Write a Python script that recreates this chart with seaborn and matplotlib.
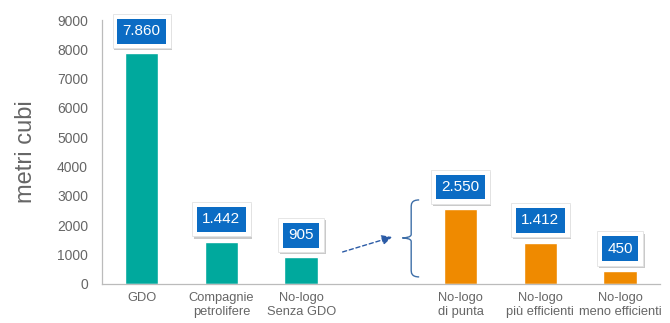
import matplotlib
matplotlib.use("Agg")
import matplotlib.pyplot as plt
import matplotlib.patheffects as pe
from matplotlib.path import Path
from matplotlib.patches import PathPatch
import seaborn as sns
import pandas as pd

# Volumes per operator type (cubic metres)
categories = ["GDO", "Compagnie\npetrolifere", "No-logo\nSenza GDO", " ",
              "No-logo\ndi punta", "No-logo\npiù efficienti", "No-logo\nmeno efficienti"]
values = [7860, 1442, 905, 0, 2550, 1412, 450]
value_labels = ["7.860", "1.442", "905", "", "2.550", "1.412", "450"]
yticks = [0, 1000, 2000, 3000, 4000, 5000, 6000, 7000, 8000, 9000]

TEAL = "#00A99D"
ORANGE = "#EF8A00"
BLUE = "#0B6CC4"
GREY = "#666666"
bar_colors = [TEAL, TEAL, TEAL, "white", ORANGE, ORANGE, ORANGE]

sns.set_style("white")
plt.rcParams["font.family"] = ["Liberation Sans", "DejaVu Sans"]

df = pd.DataFrame({"categoria": categories, "metri": values})

fig = plt.figure(figsize=(6.7, 3.23), dpi=100)
ax = fig.add_axes([0.152, 0.121, 0.833, 0.817])

sns.barplot(data=df, x="categoria", y="metri", order=categories,
            hue="categoria", palette=dict(zip(categories, bar_colors)),
            legend=False, width=0.42, saturation=1, ax=ax)

ax.set_xlim(-0.5, len(categories) - 0.5)
ax.set_ylim(0, 9000)
ax.set_yticks(yticks)
ax.set_yticklabels([str(t) for t in yticks])
ax.set_xlabel("")
ax.set_ylabel("metri cubi", fontsize=17, color=GREY, labelpad=14)

for side in ("top", "right"):
    ax.spines[side].set_visible(False)
for side in ("left", "bottom"):
    ax.spines[side].set_color("#BBBBBB")
    ax.spines[side].set_linewidth(0.9)

ax.tick_params(axis="y", which="major", length=4, color="#BBBBBB",
               labelsize=10, labelcolor=GREY, pad=6)
ax.tick_params(axis="x", which="major", length=0, labelsize=9.3,
               labelcolor=GREY, pad=6)
ax.set_xticks([i + 0.5 for i in range(-1, len(categories))], minor=True)
ax.tick_params(axis="x", which="minor", length=4, color="#BBBBBB")

# Value badges above each bar: white framed card with a soft shadow, blue label inside
for i, (v, lab) in enumerate(zip(values, value_labels)):
    if not lab:
        continue
    card = ax.annotate(lab, xy=(i, v), xytext=(0, 16), textcoords="offset points",
                       ha="center", va="center", fontsize=11, color="white",
                       bbox=dict(boxstyle="square,pad=0.66", fc="white",
                                 ec="#E2E2E2", lw=0.6))
    card.get_bbox_patch().set_path_effects(
        [pe.SimplePatchShadow(offset=(1.2, -1.5), shadow_rgbFace="#8A8A8A", alpha=0.45),
         pe.Normal()])
    ax.annotate(lab, xy=(i, v), xytext=(0, 16), textcoords="offset points",
                ha="center", va="center", fontsize=11, color="white",
                bbox=dict(boxstyle="square,pad=0.35", fc=BLUE, ec="none"))

# Curly brace grouping the no-logo breakdown
brace_col = "#3E6FA8"
x_end, x_mid, x_tip = 3.48, 3.38, 3.27
y_top, y_mid, y_bot = 2864, 1568, 239
verts = [
    (x_end, y_top), (x_mid, y_top), (x_mid, y_top - 150), (x_mid, y_top - 250),
    (x_mid, y_mid + 120),
    (x_mid, y_mid + 20), (x_tip + 0.03, y_mid), (x_tip, y_mid),
    (x_tip + 0.03, y_mid), (x_mid, y_mid - 20), (x_mid, y_mid - 120),
    (x_mid, y_bot + 250),
    (x_mid, y_bot + 150), (x_mid, y_bot), (x_end, y_bot),
]
codes = [Path.MOVETO, Path.CURVE4, Path.CURVE4, Path.CURVE4,
         Path.LINETO,
         Path.CURVE4, Path.CURVE4, Path.CURVE4,
         Path.CURVE4, Path.CURVE4, Path.CURVE4,
         Path.LINETO,
         Path.CURVE4, Path.CURVE4, Path.CURVE4]
ax.add_patch(PathPatch(Path(verts, codes), fill=False, ec=brace_col, lw=1.0))

# Dashed pointer from the no-logo total to its breakdown
ax.annotate("", xy=(3.14, 1600), xytext=(2.52, 1090),
            arrowprops=dict(arrowstyle="-|>,head_length=0.6,head_width=0.3",
                            color="#2B5BA6", lw=1.0, linestyle=(0, (3, 2)),
                            shrinkA=0, shrinkB=0))

fig.savefig("out.png", dpi=100)
